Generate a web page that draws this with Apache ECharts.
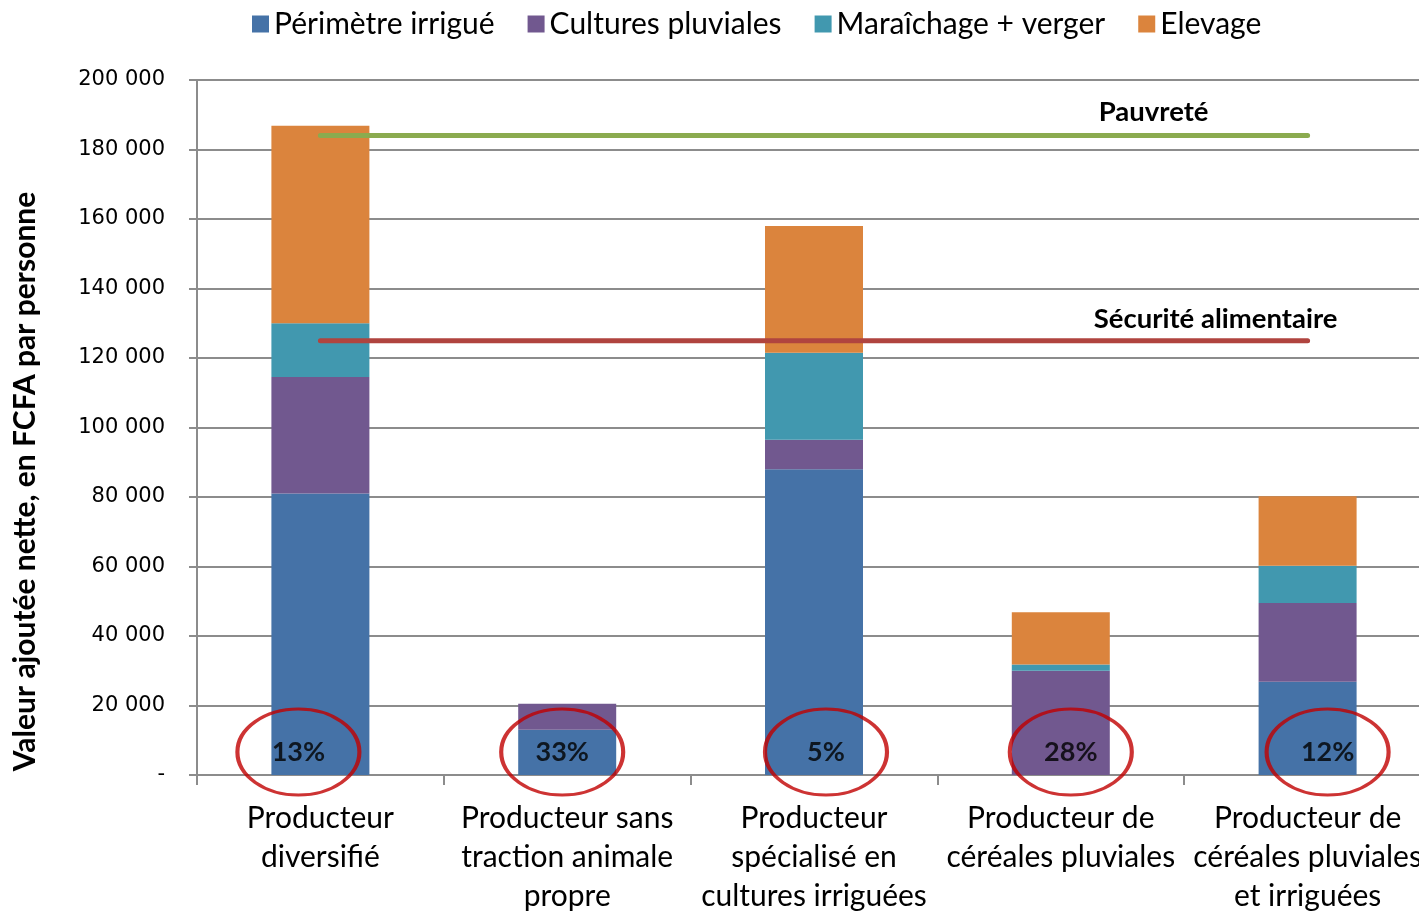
<!DOCTYPE html>
<html>
<head>
<meta charset="utf-8">
<script src="https://cdn.jsdelivr.net/npm/echarts@6/dist/echarts.min.js"></script>
<style>
  html, body { margin: 0; padding: 0; background: #fff; }
  #chart { width: 1419px; height: 911px; }
</style>
</head>
<body>
<div id="chart"></div>
<script>
// types de producteurs
const categories = [
  'Producteur\ndiversifié',
  'Producteur sans\ntraction animale\npropre',
  'Producteur\nspécialisé en\ncultures irriguées',
  'Producteur de\ncéréales pluviales',
  'Producteur de\ncéréales pluviales\net irriguées'
]
// valeur ajoutée nette par personne (FCFA)
const perimetreIrrigue = [81000, 13000, 88000, 0, 26800]
const culturesPluviales = [33500, 7500, 8500, 30000, 22700]
const maraichageVerger = [15500, 0, 25000, 1800, 10700]
const elevage = [56800, 0, 36500, 15000, 20000]
// seuils
const seuilPauvrete = [184000, 184000, 184000, 184000, 184000]
const seuilSecurite = [125000, 125000, 125000, 125000, 125000]
// annotations entourées
const pourcentages = ['13%', '33%', '5%', '28%', '12%']
const pourcentageY = [6600, 6600, 6600, 6600, 6600]

const FONT = 'Lato, "Open Sans", sans-serif'
const ellipseShift = [-22, -5, 12, 10, 20]

const chart = echarts.init(document.getElementById('chart'), null, { renderer: 'canvas' })

const barSerie = (name, data, color) => ({
  name,
  type: 'bar',
  stack: 'total',
  barWidth: 98,
  itemStyle: { color },
  data
})

// label uniquement sur le dernier point du seuil
const seuilData = (values, text, offset) => values.map((v, i) => i === values.length - 1
  ? { value: v, label: { show: true, formatter: text, position: 'top', offset } }
  : v)

const seuilSerie = (name, data, color, offset) => ({
  name,
  type: 'line',
  symbol: 'circle',
  symbolSize: 0,
  showSymbol: true,
  itemStyle: { color },
  lineStyle: { color, width: 5, cap: 'round' },
  label: { fontSize: 27.5, fontWeight: 'bold', color: '#000', fontFamily: FONT },
  data: seuilData(data, name, offset),
  z: 5
})

chart.setOption({
  animation: false,
  textStyle: { fontFamily: FONT },
  legend: {
    data: ['Périmètre irrigué', 'Cultures pluviales', 'Maraîchage + verger', 'Elevage'],
    left: 247,
    top: 4,
    itemWidth: 17,
    itemHeight: 17,
    itemGap: 33,
    icon: 'rect',
    textStyle: { fontSize: 30, color: '#000', fontFamily: FONT }
  },
  grid: { left: 197, top: 80, width: 1234, height: 695, containLabel: false, outerBoundsMode: 'none' },
  xAxis: {
    type: 'category',
    data: categories,
    axisLine: { lineStyle: { color: '#8c8c8c', width: 2 } },
    axisTick: { show: true, length: 10, lineStyle: { color: '#8c8c8c', width: 2 } },
    axisLabel: { fontSize: 30, color: '#000', lineHeight: 39, margin: 24, interval: 0, fontFamily: FONT }
  },
  yAxis: {
    type: 'value',
    min: 0,
    max: 200000,
    interval: 20000,
    name: 'Valeur ajoutée nette, en FCFA par personne',
    nameLocation: 'middle',
    nameGap: 157,
    nameTextStyle: { fontSize: 30, fontWeight: 'bold', color: '#000', fontFamily: FONT, padding: [0, 108, 0, 0] },
    axisLine: { show: true, lineStyle: { color: '#8c8c8c', width: 2 } },
    axisTick: { show: true, length: 8, lineStyle: { color: '#8c8c8c', width: 2 } },
    splitLine: { lineStyle: { color: '#8c8c8c', width: 2 } },
    axisLabel: {
      fontSize: 21,
      color: '#000',
      margin: 32,
      fontFamily: '"DejaVu Sans"',
      formatter: v => v === 0 ? '-' : String(v).replace(/\B(?=(\d{3})+(?!\d))/g, ' ')
    }
  },
  series: [
    barSerie('Périmètre irrigué', perimetreIrrigue, '#4572a7'),
    barSerie('Cultures pluviales', culturesPluviales, '#71588f'),
    barSerie('Maraîchage + verger', maraichageVerger, '#4198af'),
    barSerie('Elevage', elevage, '#db843d'),
    seuilSerie('Pauvreté', seuilPauvrete, '#8bab4f', [-154, -4]),
    seuilSerie('Sécurité alimentaire', seuilSecurite, '#b0443f', [-92, -3]),
    {
      name: 'Part',
      type: 'scatter',
      symbol: 'circle',
      symbolSize: [122, 86],
      itemStyle: { color: 'rgba(0,0,0,0)', borderColor: '#c00000', borderWidth: 3.5 },
      label: {
        show: true,
        position: 'inside',
        fontSize: 27,
        fontWeight: 'bold',
        color: '#000',
        fontFamily: FONT,
        formatter: p => pourcentages[p.dataIndex]
      },
      data: pourcentageY.map((v, i) => ({ value: v, symbolOffset: [ellipseShift[i], 0] })),
      z: 10
    }
  ]
})
</script>
</body>
</html>
